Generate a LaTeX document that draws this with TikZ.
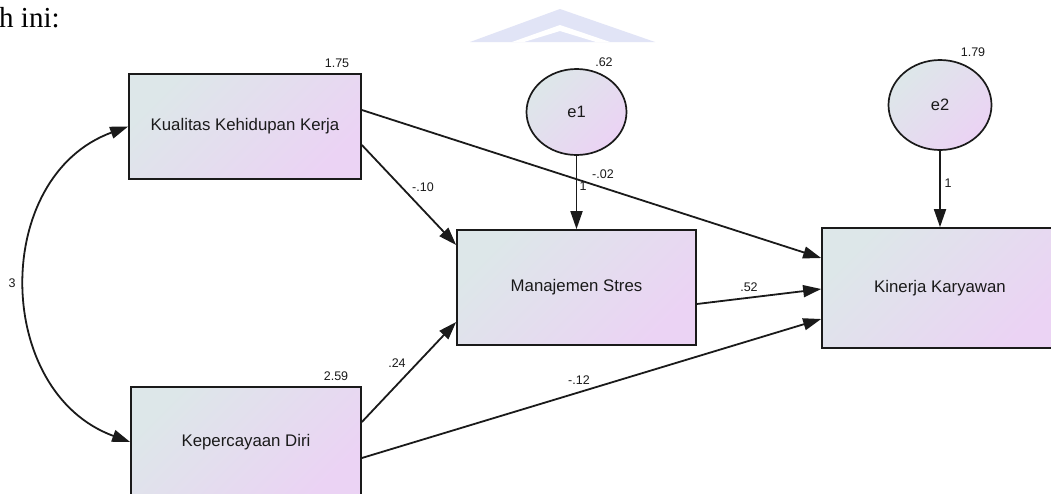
\documentclass[tikz,border=0pt]{standalone}
\usepackage{fontspec}
\setmainfont{Liberation Sans}
\newfontfamily\serifx{Liberation Serif}
\usetikzlibrary{arrows.meta,shapes.geometric}
\definecolor{gA}{HTML}{DDE7E9}
\definecolor{gB}{HTML}{EBD3F4}
\definecolor{ink}{HTML}{1A1A1A}
\definecolor{wm}{HTML}{E1E4F6}
\tikzset{
  varbox/.style={draw=ink, line width=1.7pt, rectangle, inner sep=0pt,
    top color=gA, bottom color=gB, shading angle=45,
    font=\fontsize{16.8}{19}\selectfont, text=ink},
  errnode/.style={draw=ink, line width=1.7pt, ellipse, inner sep=0pt,
    top color=gA, bottom color=gB, shading angle=45,
    font=\fontsize{16.5}{19}\selectfont, text=ink},
  val/.style={font=\fontsize{12.5}{14}\selectfont, text=ink, inner sep=0pt},
  path/.style={draw=ink, line width=1.8pt, -{Triangle[length=18pt,width=12pt]}},
  cov/.style={draw=ink, line width=1.8pt, {Triangle[length=18pt,width=12pt]}-{Triangle[length=18pt,width=12pt]}},
}
\begin{document}
\begin{tikzpicture}[x=1pt,y=-1pt]
\useasboundingbox (0,0) rectangle (1051,493);
\clip (0,0) rectangle (1051,493);
\fill[white] (0,0) rectangle (1051,493);
% watermark
\fill[wm] (470,42) -- (560,9) -- (655,42) -- cycle;
\fill[white] (512,42) -- (560,25) -- (610,42) -- (596,42) -- (560,31) -- (524,42) -- cycle;
% header text
\node[anchor=base west, inner sep=0pt, font=\serifx\fontsize{29}{32}\selectfont] (hdr) at (-1,27) {h ini:};
% nodes
\node[varbox, minimum width=232pt, minimum height=105pt] (kkk) at (245,126.5) {Kualitas Kehidupan Kerja};
\node[varbox, minimum width=230pt, minimum height=110pt] (kd) at (246,442) {Kepercayaan Diri};
\node[varbox, minimum width=239pt, minimum height=115pt] (ms) at (576.5,287.5) {Manajemen Stres};
\node[varbox, minimum width=236pt, minimum height=120pt] (kin) at (940,288) {Kinerja Karyawan};
\node[errnode, minimum width=100pt, minimum height=86pt] (e1) at (576.5,112) {e1};
\node[errnode, minimum width=103pt, minimum height=90pt] (e2) at (940,105) {e2};
% connectors
\draw[cov] (kkk.west) to[out=200,in=160,looseness=1.18] (kd.west);
\draw[path] ([yshift=16.5pt]kkk.east) -- ([yshift=30pt]kin.west);
\draw[path] ([yshift=-18.5pt]kkk.east) -- ([yshift=42.5pt]ms.west);
\draw[path] ([yshift=20pt]kd.east) -- ([yshift=-34.5pt]ms.west);
\draw[path] ([yshift=-16pt]kd.east) -- ([yshift=-31pt]kin.west);
\draw[path] ([yshift=-16.5pt]ms.east) -- ([yshift=-1pt]kin.west);
\draw[path] (e1.south) -- (ms.north);
\draw[path] (e2.south) -- (kin.north);
% values
\node[val] (v175) at (337,63) {1.75};
\node[val] (v62) at (604,62) {.62};
\node[val] (v179) at (973,52) {1.79};
\node[val] (v259) at (336,376) {2.59};
\node[val] (v10) at (423,187) {-.10};
\node[val] (v02) at (603,174) {-.02};
\node[val] (v1a) at (583,186) {1};
\node[val] (v1b) at (948,183) {1};
\node[val] (v24) at (397,363) {.24};
\node[val] (v52) at (749,287) {.52};
\node[val] (v12) at (579,380) {-.12};
\node[val] (v3) at (12,283) {3};
\end{tikzpicture}
\end{document}
